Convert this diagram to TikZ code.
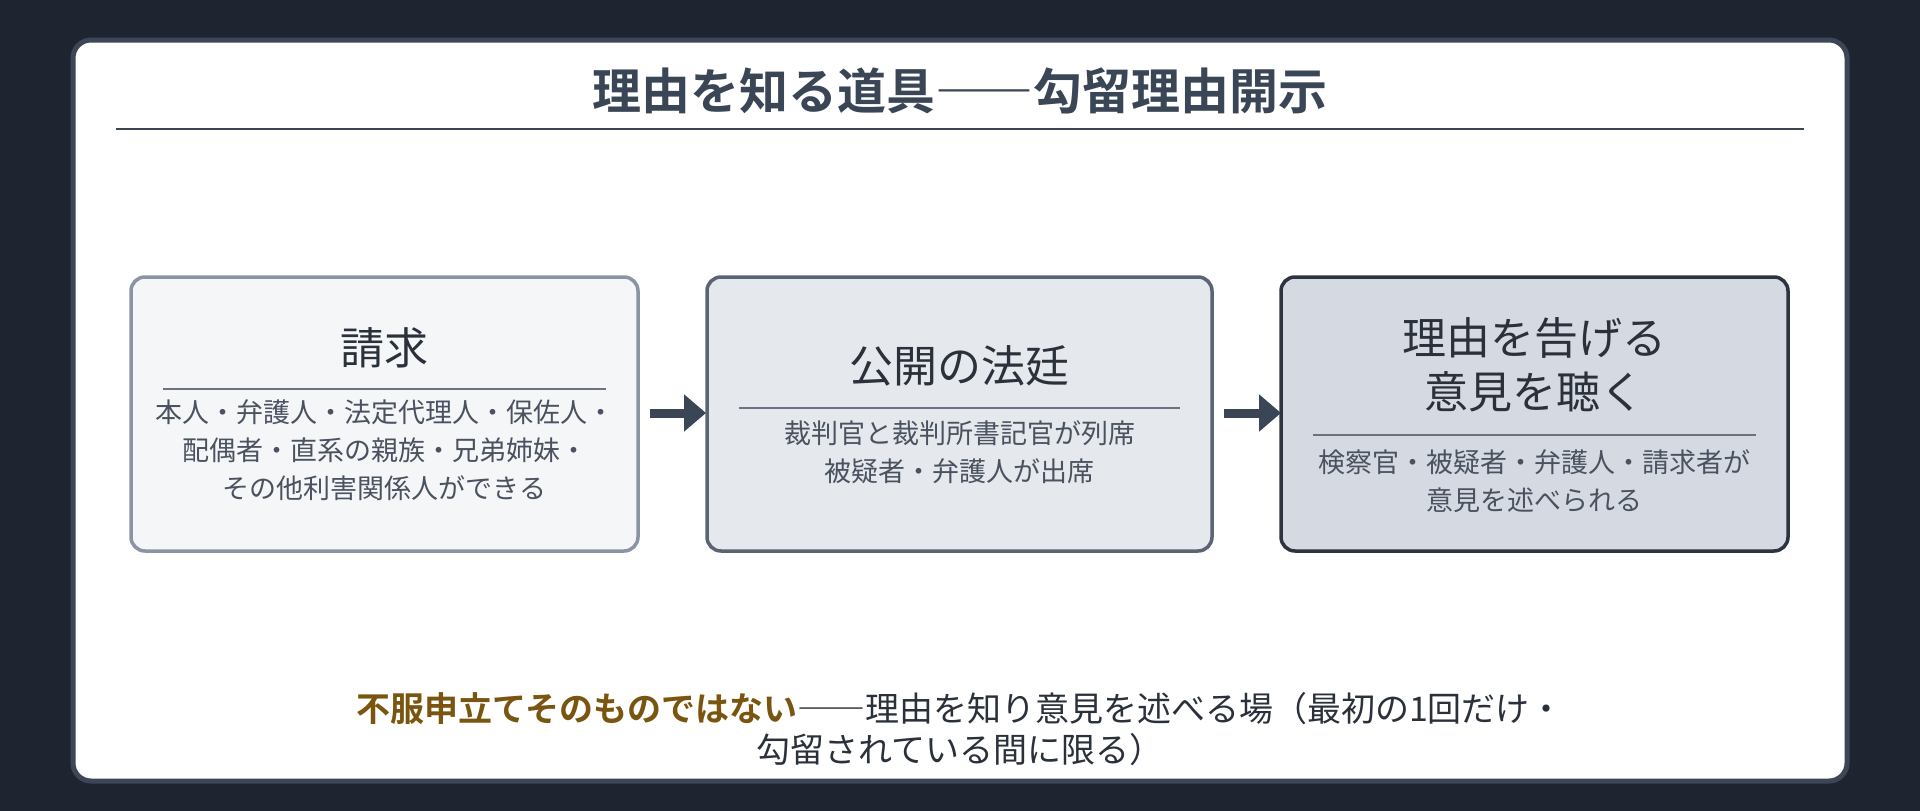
\documentclass[tikz,border=0pt]{standalone}
\usepackage{fontspec}
\setmainfont{Noto Sans CJK JP}
\newfontfamily\jpb{Noto Sans CJK JP Bold}
\usetikzlibrary{arrows.meta}
\definecolor{bgc}{HTML}{1F2530}
\definecolor{cardb}{HTML}{3D4656}
\definecolor{titc}{HTML}{3A4556}
\definecolor{txt}{HTML}{2B313B}
\definecolor{sub}{HTML}{4A5260}
\definecolor{fa}{HTML}{F4F6F8}\definecolor{ba}{HTML}{8A94A3}
\definecolor{fb}{HTML}{E5E8ED}\definecolor{bb}{HTML}{5A6473}
\definecolor{fc}{HTML}{D5DAE2}\definecolor{bc}{HTML}{2D3440}
\definecolor{emc}{HTML}{7A5510}
\definecolor{rulec}{HTML}{6B7380}
\begin{document}
\begin{tikzpicture}[x=1pt,y=-1pt,
  box/.style={draw,line width=3.5pt,rounded corners=14pt},
  ttl/.style={font=\fontsize{44}{54}\selectfont,text=txt,align=center},
  bod/.style={font=\fontsize{27}{38}\selectfont,text=sub,align=center},
  rl/.style={draw=rulec,line width=2pt},
  arr/.style={draw=titc,line width=9pt,-{Triangle[length=22pt,width=36pt]}}]
\fill[bgc] (0,0) rectangle (1920,811);
\useasboundingbox (0,0) rectangle (1920,811);
\draw[fill=white,draw=cardb,line width=5pt,rounded corners=18pt] (73,40) rectangle (1847,781);
\node[font=\jpb\fontsize{49}{56}\selectfont,text=titc] (title) at (960,91) {理由を知る道具――勾留理由開示};
\draw[titc,line width=2.5pt] (116,129) -- (1804,129);
% boxes
\draw[box,fill=fa,draw=ba] (131,277) rectangle (638,551);
\draw[box,fill=fb,draw=bb] (707,277) rectangle (1212,551);
\draw[box,fill=fc,draw=bc] (1281,277) rectangle (1788,551);
\node[ttl] (t1) at (384.5,348) {請求};
\draw[rl] (163,389) -- (606,389);
\node[bod] (b1) at (384.5,450) {本人・弁護人・法定代理人・保佐人・\\配偶者・直系の親族・兄弟姉妹・\\その他利害関係人ができる};
\node[ttl] (t2) at (959.5,366) {公開の法廷};
\draw[rl] (739,408) -- (1180,408);
\node[bod] (b2) at (959.5,452) {裁判官と裁判所書記官が列席\\被疑者・弁護人が出席};
\node[ttl] (t3) at (1534.5,365) {理由を告げる\\意見を聴く};
\draw[rl] (1313,435) -- (1756,435);
\node[bod] (b3) at (1534.5,481) {検察官・被疑者・弁護人・請求者が\\意見を述べられる};
\draw[arr] (650,413) -- (706,413);
\draw[arr] (1224,413) -- (1281,413);
\node[font=\fontsize{34}{41}\selectfont,text=txt,align=center] (foot) at (960,729) {{\jpb\color{emc}不服申立てそのものではない}――理由を知り意見を述べる場（最初の1回だけ・\\勾留されている間に限る）};
\end{tikzpicture}
\end{document}
